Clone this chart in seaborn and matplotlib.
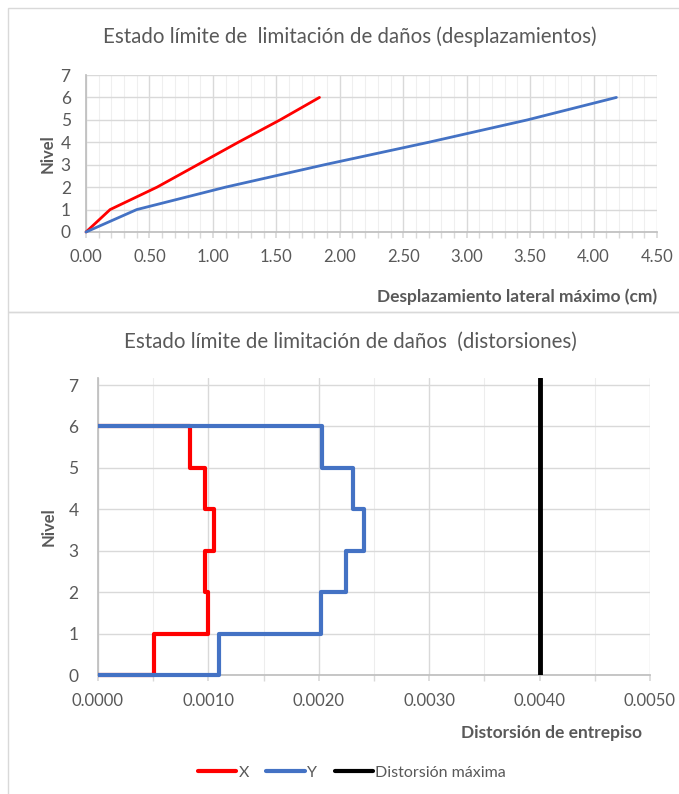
import numpy as np
import pandas as pd
import seaborn as sns
import matplotlib.pyplot as plt
from matplotlib.ticker import MultipleLocator, FormatStrFormatter
from matplotlib.lines import Line2D
from matplotlib.patches import Rectangle

sns.set_theme(style="white")
plt.rcParams['font.family'] = ['Lato', 'DejaVu Sans']

#datos
niveles = [0, 1, 2, 3, 4, 5, 6]
despl_x = [0.00, 0.19, 0.56, 0.88, 1.20, 1.53, 1.84]
despl_y = [0.00, 0.40, 1.10, 1.88, 2.70, 3.48, 4.18]

entrepisos = [1, 2, 3, 4, 5, 6]
dist_x = [0.00051, 0.00100, 0.00097, 0.00105, 0.00097, 0.00083]
dist_y = [0.00110, 0.00202, 0.00225, 0.00241, 0.00231, 0.00203]
dist_max = 0.0040

gris = '#595959'
rojo = '#FF0000'
azul = '#4472C4'
rejilla = '#D9D9D9'

def escalones(dist):
    #perfil escalonado: cada entrepiso ocupa desde su nivel inferior al superior
    xs, ys = [0.0], [0]
    for d, n in zip(dist, entrepisos):
        xs += [d, d]
        ys += [n - 1, n]
    xs.append(0.0)
    ys.append(entrepisos[-1])
    return pd.DataFrame({'x': xs, 'y': ys})

fig = plt.figure(figsize=(6.79, 7.94), dpi=100)

#marcos de los graficos
fig.patches.append(Rectangle((8/679, 1-312/794), 1, 304/794, transform=fig.transFigure,
                             fill=False, edgecolor='#D9D9D9', linewidth=1))
fig.patches.append(Rectangle((8/679, -0.01), 1, 1-312/794+0.01, transform=fig.transFigure,
                             fill=False, edgecolor='#D9D9D9', linewidth=1))

#----------------------------------------------------
#grafico 1 - desplazamientos
ax1 = fig.add_axes([86/679, 1-232/794, 571/679, 157/794])
df1 = pd.DataFrame({'X': despl_x, 'Y': despl_y, 'Nivel': niveles})
sns.lineplot(data=df1, x='X', y='Nivel', sort=False, estimator=None, color=rojo, linewidth=2,
             clip_on=False, zorder=3, ax=ax1)
sns.lineplot(data=df1, x='Y', y='Nivel', sort=False, estimator=None, color=azul, linewidth=2,
             clip_on=False, zorder=3, ax=ax1)
ax1.set_xlim(0, 4.5)
ax1.set_ylim(0, 7)
ax1.xaxis.set_major_locator(MultipleLocator(0.5))
ax1.xaxis.set_minor_locator(MultipleLocator(0.1))
ax1.xaxis.set_major_formatter(FormatStrFormatter('%.2f'))
ax1.yaxis.set_major_locator(MultipleLocator(1))
ax1.grid(which='major', color=rejilla, linewidth=1)
ax1.grid(which='minor', axis='x', color='#EFEFEF', linewidth=0.8)
ax1.set_axisbelow(True)
ax1.tick_params(axis='x', which='both', bottom=True, color=rejilla, direction='out', length=4,
                labelsize=12, labelcolor=gris, pad=8)
ax1.tick_params(axis='y', left=False, labelsize=12.5, labelcolor=gris, pad=5)
for s in ['top', 'right']:
    ax1.spines[s].set_visible(False)
for s in ['left', 'bottom']:
    ax1.spines[s].set_color('#BFBFBF')
ax1.set_xlabel('Desplazamiento lateral máximo (cm)', fontsize=12.5, fontweight='bold', color=gris)
ax1.xaxis.set_label_coords(1.0, -0.36)
ax1.xaxis.label.set_horizontalalignment('right')
ax1.set_ylabel('Nivel', fontsize=12, fontweight='bold', color=gris)
ax1.yaxis.set_label_coords(-0.053, 0.5)
fig.text(350/679, 1-37/794, 'Estado límite de  limitación de daños (desplazamientos)',
         ha='center', va='center', fontsize=14.8, color=gris)

#----------------------------------------------------
#grafico 2 - distorsiones
ax2 = fig.add_axes([98/679, 1-675/794, 552/679, 297/794])
ex = escalones(dist_x)
ey = escalones(dist_y)
sns.lineplot(data=ex, x='x', y='y', sort=False, estimator=None, color=rojo, linewidth=3,
             clip_on=False, zorder=3, solid_capstyle='butt', ax=ax2)
sns.lineplot(data=ey, x='x', y='y', sort=False, estimator=None, color=azul, linewidth=3,
             clip_on=False, zorder=3, solid_capstyle='butt', ax=ax2)
ax2.axvline(dist_max, color='black', linewidth=3.5, zorder=3)
ax2.set_xlim(0, 0.005)
ax2.set_ylim(0, 7.17)
ax2.set_yticks(range(0, 8))
ax2.xaxis.set_major_locator(MultipleLocator(0.001))
ax2.xaxis.set_minor_locator(MultipleLocator(0.0005))
ax2.xaxis.set_major_formatter(FormatStrFormatter('%.4f'))
ax2.grid(which='major', color=rejilla, linewidth=1)
ax2.grid(which='minor', axis='x', color='#EDEDED', linewidth=0.8)
ax2.set_axisbelow(True)
ax2.tick_params(axis='x', which='both', bottom=True, color=rejilla, direction='out', length=4,
                labelsize=12, labelcolor=gris, pad=9)
ax2.tick_params(axis='y', left=False, labelsize=12.5, labelcolor=gris, pad=8)
for s in ['top', 'right']:
    ax2.spines[s].set_visible(False)
for s in ['left', 'bottom']:
    ax2.spines[s].set_color('#BFBFBF')
ax2.set_xlabel('Distorsión de entrepiso', fontsize=12.5, fontweight='bold', color=gris)
ax2.xaxis.set_label_coords(0.985, -0.17)
ax2.xaxis.label.set_horizontalalignment('right')
ax2.set_ylabel('Nivel', fontsize=12, fontweight='bold', color=gris)
ax2.yaxis.set_label_coords(-0.075, 0.5)
fig.text(350/679, 1-342/794, 'Estado límite de limitación de daños  (distorsiones)',
         ha='center', va='center', fontsize=14.8, color=gris)

handles = [Line2D([], [], color=rojo, linewidth=3),
           Line2D([], [], color=azul, linewidth=3),
           Line2D([], [], color='black', linewidth=3)]
fig.legend(handles, ['X', 'Y', 'Distorsión máxima'], loc='center', bbox_to_anchor=(352/679, 1-773/794),
           ncol=3, frameon=False, fontsize=11.5, labelcolor=gris, handlelength=2.4,
           handletextpad=0.15, columnspacing=1.1)

fig.savefig('out.png', dpi=100)
